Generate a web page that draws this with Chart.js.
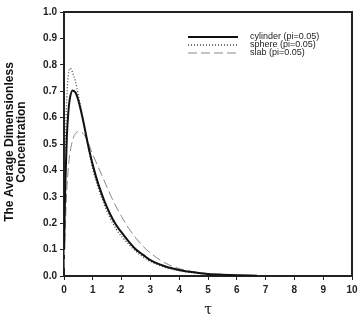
<!DOCTYPE html>
<html><head><meta charset="utf-8">
<script src="https://cdn.jsdelivr.net/npm/chart.js@4"></script>
<style>html,body{margin:0;padding:0;background:#fff}#wrap{width:362px;height:325px}</style>
</head><body><div id="wrap"><canvas id="c" width="362" height="325"></canvas></div>
<script>
const tauCyl = [0.005,0.02,0.05,0.1,0.15,0.2,0.3,0.4,0.5,0.6,0.7,0.8,0.9,1.0,1.2,1.4,1.6,1.8,2.0,2.25,2.5,2.75,3.0,3.5,4.0,4.5,5.0,5.5,6.0,6.7];
const cylinder = [0.1,0.22,0.36,0.53,0.62,0.67,0.703,0.695,0.665,0.62,0.57,0.515,0.465,0.42,0.345,0.285,0.235,0.195,0.165,0.13,0.10,0.08,0.06,0.037,0.023,0.014,0.008,0.005,0.003,0.001];
const tauSph = [0.005,0.03,0.06,0.1,0.15,0.22,0.3,0.4,0.5,0.6,0.7,0.8,0.9,1.0,1.2,1.4,1.6,1.8,2.0,2.25,2.5,2.75,3.0,3.5,4.0,4.5,5.0,5.5,6.0];
const sphere = [0.12,0.36,0.56,0.68,0.76,0.787,0.77,0.735,0.685,0.63,0.57,0.51,0.455,0.405,0.33,0.27,0.22,0.18,0.15,0.12,0.093,0.072,0.055,0.033,0.02,0.012,0.007,0.004,0.002];
const tauSlab = [0.005,0.02,0.05,0.1,0.15,0.2,0.3,0.4,0.5,0.6,0.7,0.8,1.0,1.2,1.4,1.6,1.8,2.0,2.25,2.5,2.75,3.0,3.5,4.0,4.5,5.0,5.5,6.0,6.5];
const slab = [0.03,0.1,0.2,0.33,0.41,0.46,0.515,0.54,0.547,0.545,0.535,0.515,0.46,0.41,0.36,0.31,0.265,0.225,0.18,0.143,0.112,0.087,0.05,0.028,0.016,0.009,0.005,0.003,0.002];
const seriesNames = ['cylinder (pi=0.05)','sphere (pi=0.05)','slab (pi=0.05)'];
const xTicks = [0,1,2,3,4,5,6,7,8,9,10];
const yTicks = [0,0.1,0.2,0.3,0.4,0.5,0.6,0.7,0.8,0.9,1.0];

const pts = (xs, ys) => xs.map((x,i)=>({x:x,y:ys[i]}));
const styles = [
  {borderColor:'#111', borderWidth:2, borderDash:[]},
  {borderColor:'#444', borderWidth:1.3, borderDash:[1,2]},
  {borderColor:'#888', borderWidth:1, borderDash:[9,4]}
];
const datasets = [pts(tauCyl,cylinder), pts(tauSph,sphere), pts(tauSlab,slab)].map((d,i)=>Object.assign({
  label: seriesNames[i], data: d, pointRadius:0, fill:false, cubicInterpolationMode:'monotone'
}, styles[i]));

const frame = {
  id:'frame',
  afterDraw(chart){
    const c = chart.ctx, a = chart.chartArea;
    c.save();
    c.strokeStyle = '#222'; c.lineWidth = 2;
    c.beginPath(); c.moveTo(a.left, a.top); c.lineTo(a.right, a.top); c.lineTo(a.right, a.bottom); c.stroke();
    // legend
    const lx0 = 188, lx1 = 238, tx = 250, rows = [37, 45, 53];
    c.font = '9px "Liberation Sans", Arial, sans-serif';
    c.textBaseline = 'middle'; c.textAlign = 'left';
    datasets.forEach((ds,i)=>{
      c.strokeStyle = ds.borderColor; c.lineWidth = ds.borderWidth; c.setLineDash(ds.borderDash);
      c.beginPath(); c.moveTo(lx0, rows[i]); c.lineTo(lx1, rows[i]); c.stroke();
      c.setLineDash([]);
      c.fillStyle = '#222'; c.fillText(ds.label, tx, rows[i]);
    });
    // axis titles
    c.fillStyle = '#111';
    c.font = '14px "DejaVu Serif", "Liberation Serif", serif';
    c.textAlign = 'center'; c.textBaseline = 'middle';
    c.fillText('τ', (a.left + a.right)/2, 310);
    c.font = 'bold 12px "Liberation Sans", Arial, sans-serif';
    c.translate(10, 142); c.rotate(-Math.PI/2);
    c.fillText('The Average Dimensionless', 0, 0);
    c.fillText('Concentration', 0, 12);
    c.restore();
  }
};

const tickFont = {family:'"Liberation Sans", Arial, sans-serif', size:10, weight:'bold'};
new Chart(document.getElementById('c'), {
  type:'line',
  data:{datasets:datasets},
  options:{
    responsive:false, animation:false, devicePixelRatio:1,
    layout:{padding:{left:0, right:10, top:12, bottom:0}},
    plugins:{legend:{display:false}, tooltip:{enabled:false}},
    scales:{
      x:{type:'linear', min:0, max:10,
        afterBuildTicks(s){ s.ticks = xTicks.map(v=>({value:v})); },
        afterFit(s){ s.height = 49; },
        grid:{drawOnChartArea:false, drawTicks:true, tickLength:4, color:'#222', tickWidth:1},
        border:{display:true, color:'#222', width:2},
        ticks:{font:tickFont, color:'#222', padding:4, maxRotation:0, callback:v=>String(v)}
      },
      y:{type:'linear', min:0, max:1,
        afterBuildTicks(s){ s.ticks = yTicks.map(v=>({value:v})); },
        afterFit(s){ s.width = 64; },
        grid:{drawOnChartArea:false, drawTicks:true, tickLength:4, color:'#222', tickWidth:1},
        border:{display:true, color:'#222', width:2},
        ticks:{font:tickFont, color:'#222', padding:3, callback:v=>Number(v).toFixed(1)}
      }
    }
  },
  plugins:[frame]
});
</script></body></html>
